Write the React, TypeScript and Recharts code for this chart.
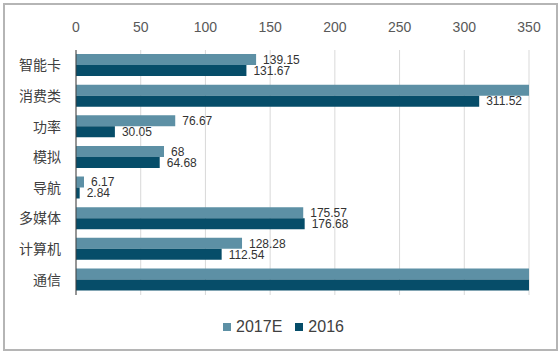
import { BarChart, Bar, XAxis, YAxis, CartesianGrid, Legend, LabelList } from "recharts"

// ─── Data ────────────────────────────────────────────────────────────────────

const CATEGORIES = ["智能卡", "消费类", "功率", "模拟", "导航", "多媒体", "计算机", "通信"]
// 消费类 (2017E) and 通信 run past the axis maximum in the source, values estimated
const VALUES_2017E = [139.15, 372, 76.67, 68, 6.17, 175.57, 128.28, 560]
const VALUES_2016 = [131.67, 311.52, 30.05, 64.68, 2.84, 176.68, 112.54, 520]
const TICKS = [0, 50, 100, 150, 200, 250, 300, 350]
const SERIES = [
    { key: "e2017", name: "2017E", color: "#5d90a5" },
    { key: "y2016", name: "2016", color: "#064d69" },
]
const MAX = 350

const DATA = CATEGORIES.map((name, i) => ({
    name,
    e2017: VALUES_2017E[i],
    y2016: VALUES_2016[i],
}))

const FONT = "'Liberation Sans', 'Noto Sans CJK SC', sans-serif"

const hideOverflow = (v: any) => (Number(v) > MAX ? "" : v)

function ChartLegend() {
    return (
        <div style={{ display: "flex", justifyContent: "center", gap: 13, paddingLeft: 38 }}>
            {SERIES.map((s) => (
                <div key={s.key} style={{ display: "flex", alignItems: "center", gap: 5 }}>
                    <span style={{ width: 8, height: 8, background: s.color, display: "inline-block" }} />
                    <span style={{ color: "#404040", fontSize: 16, lineHeight: "18px" }}>{s.name}</span>
                </div>
            ))}
        </div>
    )
}

export default function App() {
    return (
        <div style={{ position: "fixed", left: 0, top: 0, width: 560, height: 353, background: "#fff", fontFamily: FONT }}>
            <div
                style={{
                    position: "absolute",
                    left: 3,
                    top: 3,
                    width: 551,
                    height: 344,
                    border: "2px solid #b5b5b5",
                }}
            />
            <div style={{ position: "absolute", left: 0, top: 0 }}>
                <BarChart
                    width={560}
                    height={353}
                    data={DATA}
                    layout="vertical"
                    margin={{ top: 20, right: 31, bottom: 40, left: 0 }}
                    barSize={11}
                    barGap={0}
                >
                    <CartesianGrid horizontal={false} stroke="#d9d9d9" />
                    <XAxis
                        type="number"
                        orientation="top"
                        domain={[0, MAX]}
                        ticks={TICKS}
                        allowDataOverflow
                        axisLine={false}
                        tickLine={false}
                        tickMargin={12}
                        height={30}
                        tick={{ fill: "#595959", fontSize: 14, fontFamily: FONT }}
                    />
                    <YAxis
                        type="category"
                        dataKey="name"
                        width={76}
                        axisLine={{ stroke: "#404040" }}
                        tickLine={false}
                        tickMargin={9}
                        tick={{ fill: "#404040", fontSize: 14, fontFamily: FONT }}
                    />
                    <Legend verticalAlign="bottom" wrapperStyle={{ bottom: 17 }} content={<ChartLegend />} />
                    {SERIES.map((s) => (
                        <Bar key={s.key} dataKey={s.key} name={s.name} fill={s.color} isAnimationActive={false}>
                            <LabelList
                                dataKey={s.key}
                                position="right"
                                offset={7}
                                formatter={hideOverflow}
                                fill="#333"
                                fontSize={12}
                            />
                        </Bar>
                    ))}
                </BarChart>
            </div>
        </div>
    )
}
